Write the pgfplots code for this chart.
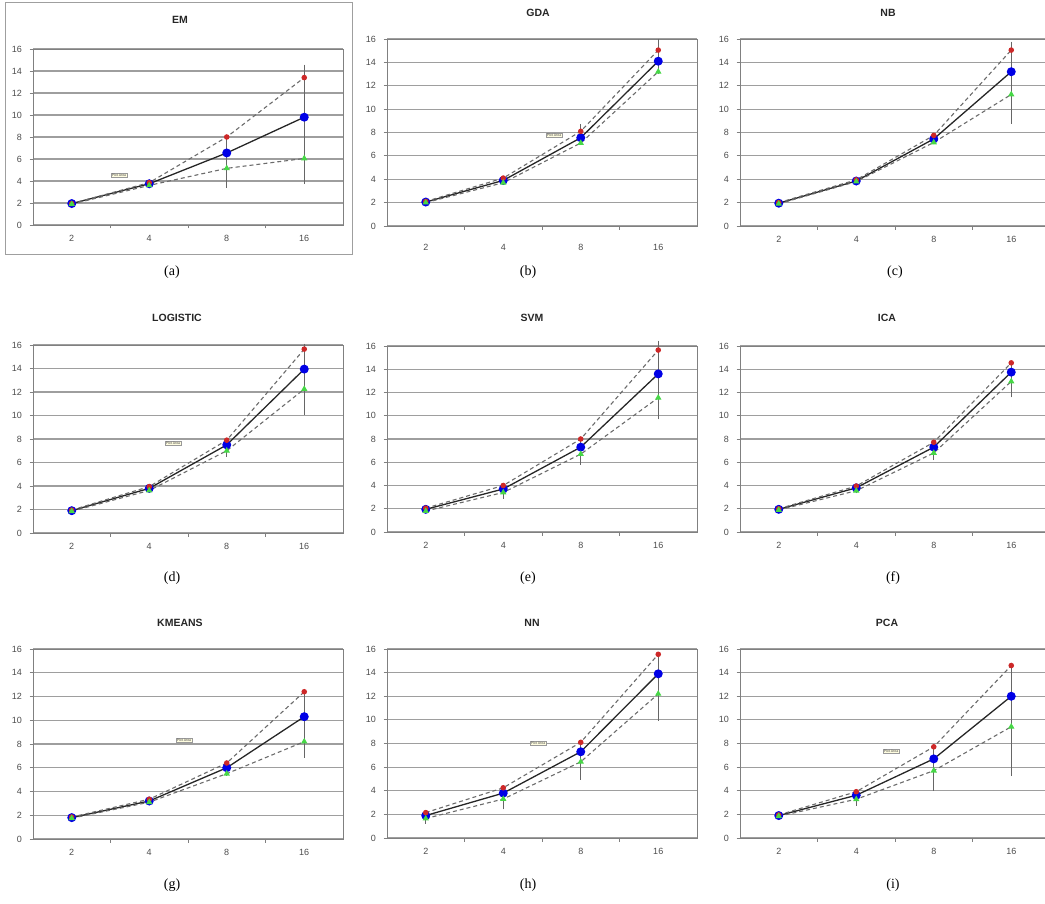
\documentclass[border=0pt]{standalone}
\usepackage{fontspec}
\setmainfont{Liberation Serif}
\newfontfamily\arial{Liberation Sans}
\usepackage{pgfplots}
\pgfplotsset{compat=1.18}

\definecolor{gridc}{gray}{0.62}
\definecolor{axisc}{gray}{0.5}
\definecolor{labc}{gray}{0.3}
\definecolor{dashc}{gray}{0.42}
\definecolor{hired}{RGB}{205,40,40}
\definecolor{meanblue}{RGB}{0,0,230}
\definecolor{logreen}{RGB}{70,215,70}
\definecolor{errc}{gray}{0.4}

\pgfplotsset{
  excel/.style={
    scale only axis, width=310pt, height=187pt,
    anchor=south west,
    xmin=-0.5, xmax=3.5, ymin=0, ymax=16,
    xtick={0,1,2,3}, xticklabels={2,4,8,16},
    minor xtick={0.5,1.5,2.5},
    ytick={0,2,...,16},
    xtick pos=bottom, ytick pos=left,
    tick align=outside,
    major tick length=3.5pt, minor tick length=3.5pt,
    major x tick style={draw=none},
    tick style={axisc, line width=0.8pt},
    axis line style={axisc, line width=0.8pt},
    ymajorgrids, grid style={gridc, line width=1.1pt},
    tick label style={font=\arial\fontsize{9}{10}\selectfont, text=labc},
    xticklabel style={yshift=-3pt},
    yticklabel style={xshift=-4pt},
    /pgf/number format/assume math mode=true,
    title style={font=\arial\bfseries\fontsize{10.5}{12}\selectfont, text=black!85,
      at={(0.5,1)}, anchor=center},
    clip=false,
  },
  mean/.style={black!85, line width=1.3pt, mark=*, mark size=3.8pt,
    mark options={solid, fill=meanblue, draw=meanblue},
    error bars/.cd, y dir=both, y explicit,
    error bar style={errc, line width=1pt, solid},
    error mark options={errc, line width=1pt, mark size=2pt}},
  upper/.style={dashc, line width=1.1pt, dash pattern=on 4pt off 3pt,
    mark=*, mark size=2.2pt, mark options={solid, fill=hired, draw=hired}},
  lower/.style={dashc, line width=1.1pt, dash pattern=on 4pt off 3pt,
    mark=triangle*, mark size=2.6pt, mark options={solid, fill=logreen, draw=logreen}},
}
\tikzset{plotarea/.style={draw=gray!80, fill=yellow!12, inner sep=0.8pt,
  font=\arial\fontsize{3.5}{4}\selectfont, text=black!70}}

\begin{document}
\begin{tikzpicture}
\useasboundingbox (0pt,0pt) rectangle (1045pt,-904pt);

% frame round chart (a)
\draw[gray!75, line width=0.9pt] (5pt,-2pt) rectangle (352pt,-254pt);

% (a) EM
\begin{axis}[excel, at={(33pt,-225pt)}, height=176pt, title={EM},
  title style={yshift=23pt, xshift=-8pt}]
\addplot+[mean] coordinates {(0,1.95) (1,3.75) (2,6.55) += (0,1.45) -= (0,3.0) (3,9.8) += (0,4.6) -= (0,5.9)};
\addplot+[upper] coordinates {(0,1.95) (1,3.85) (2,8.0) (3,13.4)};
\addplot+[lower] coordinates {(0,1.9) (1,3.6) (2,5.15) (3,6.05)};
\end{axis}
\node[plotarea] at (119pt,-175pt) {Plot Area};

% (b) GDA
\begin{axis}[excel, at={(387pt,-226pt)}, height=187pt, title={GDA},
  title style={yshift=20pt, xshift=-4pt}, xticklabel style={yshift=-8pt}]
\addplot+[mean] coordinates {(0,2.05) (1,3.9) += (0,0.2) -= (0,0.2) (2,7.55) += (0,1.0) -= (0,0.45) (3,14.1) += (0,1.75) -= (0,0.9)};
\addplot+[upper] coordinates {(0,2.1) (1,4.1) (2,8.1) (3,15.05)};
\addplot+[lower] coordinates {(0,2.0) (1,3.7) (2,7.1) (3,13.2)};
\end{axis}
\node[plotarea] at (554pt,-135pt) {Plot Area};

% (c) NB
\begin{axis}[excel, at={(740pt,-226pt)}, height=187pt, title={NB},
  title style={yshift=20pt, xshift=-7pt}]
\addplot+[mean] coordinates {(0,1.95) (1,3.85) (2,7.45) += (0,0.3) -= (0,0.3) (3,13.2) += (0,2.4) -= (0,4.3)};
\addplot+[upper] coordinates {(0,2.0) (1,3.95) (2,7.75) (3,15.05)};
\addplot+[lower] coordinates {(0,1.9) (1,3.8) (2,7.15) (3,11.25)};
\end{axis}

% (d) LOGISTIC
\begin{axis}[excel, at={(33pt,-533pt)}, height=188pt, title={LOGISTIC},
  title style={yshift=21pt, xshift=-11pt}]
\addplot+[mean] coordinates {(0,1.9) (1,3.8) (2,7.5) += (0,0.4) -= (0,0.85) (3,13.95) += (0,2.0) -= (0,3.7)};
\addplot+[upper] coordinates {(0,1.95) (1,3.95) (2,7.9) (3,15.65)};
\addplot+[lower] coordinates {(0,1.85) (1,3.62) (2,7.0) (3,12.25)};
\end{axis}
\node[plotarea] at (173pt,-443pt) {Plot Area};

% (e) SVM
\begin{axis}[excel, at={(387pt,-532pt)}, height=186pt, title={SVM},
  title style={yshift=22pt, xshift=-10pt}]
\addplot+[mean] coordinates {(0,1.95) (1,3.7) += (0,0.3) -= (0,0.65) (2,7.3) += (0,0.7) -= (0,1.35) (3,13.6) += (0,2.7) -= (0,3.75)};
\addplot+[upper] coordinates {(0,2.05) (1,4.0) (2,8.0) (3,15.65)};
\addplot+[lower] coordinates {(0,1.8) (1,3.4) (2,6.7) (3,11.55)};
\end{axis}

% (f) ICA
\begin{axis}[excel, at={(740pt,-532pt)}, height=186pt, title={ICA},
  title style={yshift=22pt, xshift=-8pt}]
\addplot+[mean] coordinates {(0,1.95) (1,3.8) += (0,0.15) -= (0,0.3) (2,7.3) += (0,0.42) -= (0,0.95) (3,13.75) += (0,0.8) -= (0,2.0)};
\addplot+[upper] coordinates {(0,2.0) (1,3.95) (2,7.72) (3,14.55)};
\addplot+[lower] coordinates {(0,1.9) (1,3.55) (2,6.8) (3,12.95)};
\end{axis}

% (g) KMEANS
\begin{axis}[excel, at={(33pt,-839pt)}, height=190pt, title={KMEANS},
  title style={yshift=20pt, xshift=-8pt}]
\addplot+[mean] coordinates {(0,1.8) (1,3.2) (2,6.0) += (0,0.4) -= (0,0.5) (3,10.3) += (0,2.1) -= (0,3.3)};
\addplot+[upper] coordinates {(0,1.85) (1,3.35) (2,6.4) (3,12.4)};
\addplot+[lower] coordinates {(0,1.75) (1,3.1) (2,5.5) (3,8.2)};
\end{axis}
\node[plotarea] at (184pt,-740pt) {Plot Area};

% (h) NN
\begin{axis}[excel, at={(387pt,-838pt)}, height=189pt, title={NN},
  title style={yshift=20pt, xshift=-10pt}]
\addplot+[mean] coordinates {(0,1.9) += (0,0.25) -= (0,0.52) (1,3.8) += (0,0.45) -= (0,1.2) (2,7.3) += (0,0.8) -= (0,2.18) (3,13.9) += (0,1.65) -= (0,3.8)};
\addplot+[upper] coordinates {(0,2.15) (1,4.25) (2,8.1) (3,15.55)};
\addplot+[lower] coordinates {(0,1.65) (1,3.3) (2,6.45) (3,12.2)};
\end{axis}
\node[plotarea] at (538pt,-743pt) {Plot Area};

% (i) PCA
\begin{axis}[excel, at={(740pt,-838pt)}, height=189pt, title={PCA},
  title style={yshift=20pt, xshift=-8pt}]
\addplot+[mean] coordinates {(0,1.9) (1,3.62) += (0,0.3) -= (0,0.74) (2,6.7) += (0,1.02) -= (0,2.55) (3,12.0) += (0,2.5) -= (0,6.6)};
\addplot+[upper] coordinates {(0,1.95) (1,3.92) (2,7.72) (3,14.6)};
\addplot+[lower] coordinates {(0,1.85) (1,3.28) (2,5.7) (3,9.42)};
\end{axis}
\node[plotarea] at (891pt,-751pt) {Plot Area};

% sub-captions
\begin{scope}[every node/.style={font=\fontsize{14}{16}\selectfont}]
\node at (172pt,-272pt) {(a)};
\node at (528pt,-272pt) {(b)};
\node at (895pt,-272pt) {(c)};
\node at (172pt,-578pt) {(d)};
\node at (528pt,-578pt) {(e)};
\node at (893pt,-578pt) {(f)};
\node at (172pt,-885pt) {(g)};
\node at (528pt,-885pt) {(h)};
\node at (893pt,-885pt) {(i)};
\end{scope}
\end{tikzpicture}
\end{document}
